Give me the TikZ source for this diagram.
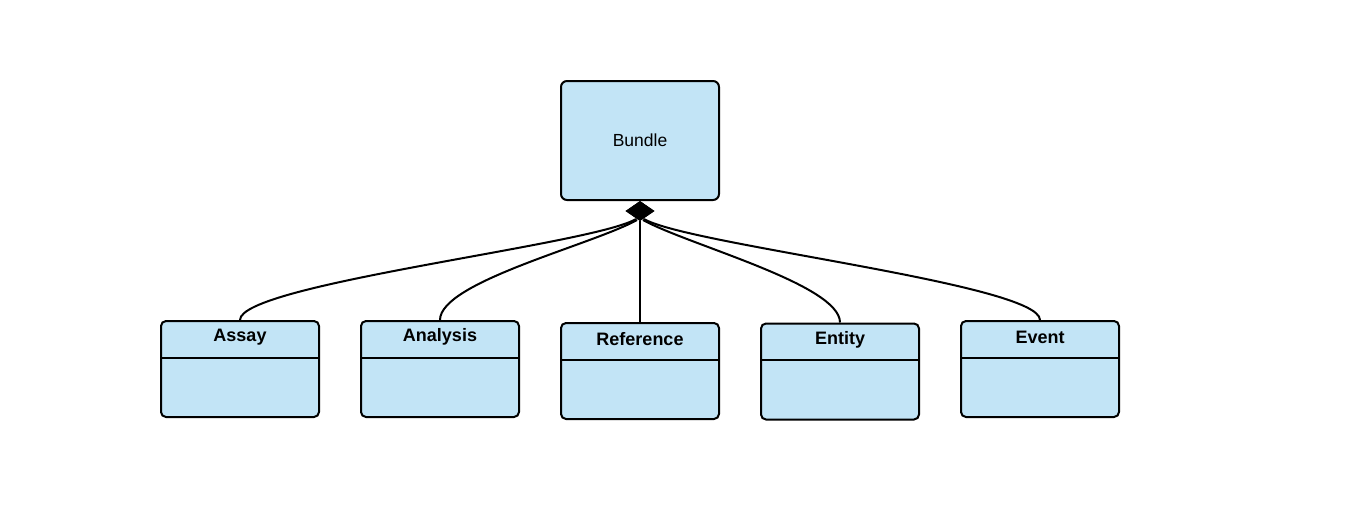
\documentclass[tikz,border=0pt]{standalone}
\usepackage{fontspec}
\setmainfont{Liberation Sans}
\usetikzlibrary{shapes.geometric,calc}
\definecolor{boxblue}{RGB}{194,228,246}
\begin{document}
\begin{tikzpicture}[x=1pt,y=-1pt,
  cls/.style={draw, fill=boxblue, rounded corners=5pt, line width=2pt, minimum width=158pt, minimum height=96pt, inner sep=0pt},
  bigbox/.style={draw, fill=boxblue, rounded corners=6pt, line width=2pt, minimum width=158pt, minimum height=119pt, inner sep=0pt, font=\fontsize{17.5}{19}\selectfont},
  ttl/.style={font=\fontsize{18}{20}\selectfont\bfseries},
  conn/.style={line width=2pt},
  divline/.style={line width=2pt},
  agg/.style={diamond, fill=black, minimum width=29pt, minimum height=20pt, inner sep=0pt}]
\useasboundingbox (0,0) rectangle (1360,517);
\node[bigbox] (bundle) at (640,140.5) {Bundle};
\node[agg] (dia) at (640,211) {};

\node[cls] (assay) at (240,369) {};
\node[cls] (analysis) at (440,369) {};
\node[cls] (reference) at (640,371) {};
\node[cls] (entity) at (840,371.5) {};
\node[cls] (event) at (1040,369) {};

\node[ttl] (assayT) at (240,337) {Assay};
\node[ttl] (analysisT) at (440,337) {Analysis};
\node[ttl] (referenceT) at (640,339) {Reference};
\node[ttl] (entityT) at (840,339.5) {Entity};
\node[ttl] (eventT) at (1040,337) {Event};

\draw[divline] (assay.west |- 0,358) -- (assay.east |- 0,358);
\draw[divline] (analysis.west |- 0,358) -- (analysis.east |- 0,358);
\draw[divline] (reference.west |- 0,360) -- (reference.east |- 0,360);
\draw[divline] (entity.west |- 0,360) -- (entity.east |- 0,360);
\draw[divline] (event.west |- 0,358) -- (event.east |- 0,358);

\coordinate (tip) at (640,219);
\draw[conn] (assay.north) .. controls +(0,-36) and ($(tip)+(-48,26)$) .. ($(tip)+(-4,0)$);
\draw[conn] (analysis.north) .. controls +(0,-38) and ($(tip)+(-48,26)$) .. ($(tip)+(-3,1)$);
\draw[conn] (reference.north) -- (dia.south);
\draw[conn] (entity.north) .. controls +(0,-38) and ($(tip)+(48,26)$) .. ($(tip)+(3,1)$);
\draw[conn] (event.north) .. controls +(0,-36) and ($(tip)+(48,26)$) .. ($(tip)+(4,0)$);
\node[agg] at (dia) {};
\end{tikzpicture}
\end{document}
